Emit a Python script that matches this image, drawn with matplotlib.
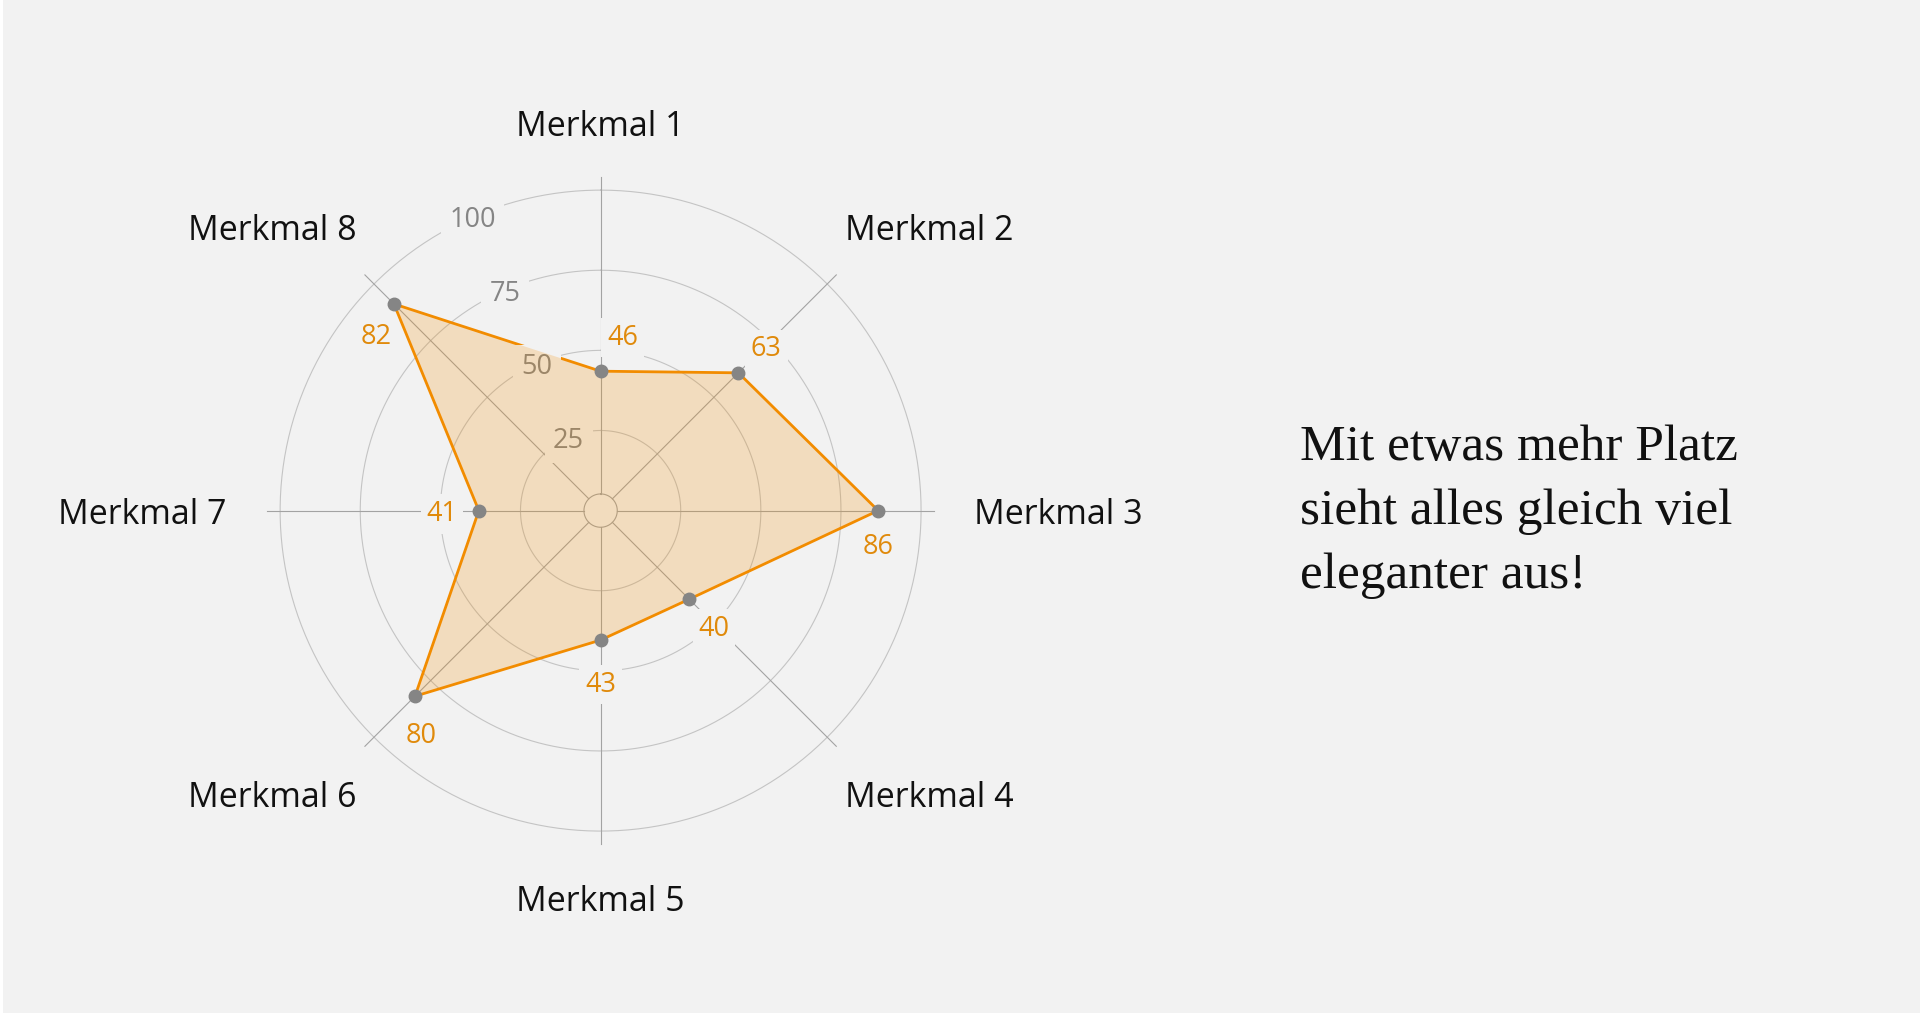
import numpy as np
import matplotlib
matplotlib.use('Agg')
import matplotlib.pyplot as plt
from matplotlib.patches import Rectangle

# Daten
kategorien = ['Merkmal 1', 'Merkmal 2', 'Merkmal 3', 'Merkmal 4',
              'Merkmal 5', 'Merkmal 6', 'Merkmal 7', 'Merkmal 8']
werte = [43.5, 60.8, 86.6, 39.1, 40.4, 81.9, 38.0, 91.2]
# angezeigte Beschriftungen der Punkte
beschriftung = ['46', '63', '86', '40', '43', '80', '41', '82']
ringe = [25, 50, 75, 100]
ring_labels = ['25', '50', '75', '100']

bg = '#f2f2f2'
orange = '#f28c00'
orange_text = '#e08a0b'
grau_punkt = '#858585'

# Versatz der Wertbeschriftungen in Pixel
label_offset = [(22, 37), (28, 27), (0, -33), (25, -26),
                (0, -41), (6, -36), (-37, 0), (-18, -30)]

fig = plt.figure(figsize=(19.2, 10.14), dpi=100, facecolor='white')
fig.patches.append(Rectangle((3 / 1920, 1 / 1014), 1, 1, transform=fig.transFigure,
                             facecolor=bg, edgecolor='none', zorder=-10))

ax = fig.add_axes([0.13922, 0.16775, 0.34719, 0.65740], projection='polar')
ax.set_facecolor('none')
ax.set_theta_zero_location('N')
ax.set_theta_direction(-1)
ax.set_ylim(0, 104)
ax.grid(False)
ax.set_xticks([])
ax.set_yticks([])
ax.spines['polar'].set_visible(False)

n = len(kategorien)
winkel = np.arange(n) * 2 * np.pi / n

# Ringe
t = np.linspace(0, 2 * np.pi, 400)
for r in ringe:
    ax.plot(t, np.full_like(t, r), color='#c4c4c4', lw=0.8, zorder=1)
# Speichen und Loch in der Mitte
for a in winkel:
    ax.plot([a, a], [5.2, 104], color='#a3a3a3', lw=0.8, zorder=1, clip_on=False)
ax.plot(t, np.full_like(t, 5.2), color='#a3a3a3', lw=0.8, zorder=1)

# Linie
w_zu = np.append(werte, werte[0])
a_zu = np.append(winkel, winkel[0])
ax.plot(a_zu, w_zu, color=orange, lw=2, zorder=2)

# Ring-Beschriftung mit Hintergrund
a_tick = np.deg2rad(360 - 23.5)
for r, txt in zip(ringe, ring_labels):
    ax.text(a_tick, r, txt, ha='center', va='center_baseline', fontsize=19.5,
            family='Open Sans', color='#858585', zorder=3,
            bbox=dict(facecolor=bg, edgecolor='none', pad=6))

# Wertbeschriftungen (verdecken das Raster)
for a, v, txt, off in zip(winkel, werte, beschriftung, label_offset):
    ax.annotate(txt, (a, v), xytext=off, textcoords='offset pixels',
                ha='center', va='center_baseline', fontsize=19.5, family='Open Sans',
                color=orange_text, zorder=3,
                bbox=dict(facecolor=bg, edgecolor='none', pad=4))

# Fläche
ax.fill(a_zu, w_zu, color=orange, alpha=0.21, lw=0, zorder=4)

# Punkte
ax.plot(winkel, werte, 'o', color=grau_punkt, ms=9, zorder=5, clip_on=False)

# Kategorien
for a, txt in zip(winkel, kategorien):
    s, c = np.sin(a), np.cos(a)
    if abs(s) < 0.1:
        pos, ha = (a, 121), 'center'
    elif abs(c) < 0.1:
        pos, ha = (a, 116.6), ('left' if s > 0 else 'right')
    else:
        # Ecken: etwas steiler als die Diagonale
        d = np.deg2rad(4.3)
        a2 = a - d if (s > 0) == (c > 0) else a + d
        pos, ha = (a2, 116.8), ('left' if s > 0 else 'right')
    ax.text(pos[0], pos[1], txt, ha=ha, va='center_baseline', fontsize=24.5,
            family='Open Sans', color='#111111', clip_on=False)

# Text rechts
zeilen = ['Mit etwas mehr Platz', 'sieht alles gleich viel', 'eleganter aus!']
for i, z in enumerate(zeilen):
    fig.text(1300 / 1920, 1 - (460 + i * 64) / 1014, z, ha='left', va='baseline',
             fontsize=37, family='Liberation Serif', color='#111111')

fig.savefig('out.png', dpi=100, facecolor=fig.get_facecolor())
